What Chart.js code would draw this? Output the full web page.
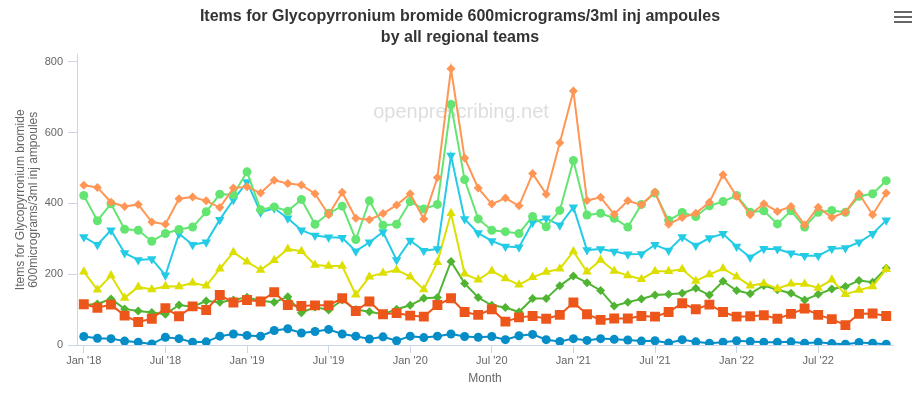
<!DOCTYPE html>
<html>
<head>
<meta charset="utf-8">
<script src="https://cdn.jsdelivr.net/npm/chart.js@4/dist/chart.umd.min.js"></script>
<style>
  html, body { margin: 0; padding: 0; background: #fff; }
  #wrap { width: 920px; height: 396px; position: relative; }
</style>
</head>
<body>
<div id="wrap"><canvas id="chart" width="920" height="396"></canvas></div>
<script>
// months Jan 2018 .. Dec 2022
const monthNames = ['Jan', 'Feb', 'Mar', 'Apr', 'May', 'Jun', 'Jul', 'Aug', 'Sep', 'Oct', 'Nov', 'Dec']
const years = ['18', '19', '20', '21', '22']
const months = years.flatMap(y => monthNames.map(m => `${m} '${y}`))

const yTicks = [0, 200, 400, 600, 800]

// one list per regional team (series colours follow the original chart)
const teamA = [24, 19, 18, 11, 8, 3, 22, 18, 8, 9, 25, 31, 27, 25, 41, 46, 34, 38, 44, 31,
  25, 17, 23, 12, 25, 21, 25, 31, 24, 22, 24, 15, 26, 30, 15, 10, 18, 13, 18, 16,
  14, 11, 12, 6, 15, 9, 5, 8, 12, 10, 8, 8, 9, 5, 8, 4, 2, 7, 5, 2]
const teamB = [113, 116, 130, 102, 96, 92, 87, 113, 108, 124, 121, 127, 135, 125, 121, 136, 91, 107, 99, 127,
  100, 94, 87, 101, 112, 132, 134, 236, 174, 134, 112, 106, 93, 131, 131, 167, 195, 176, 154, 110,
  121, 130, 141, 143, 146, 160, 141, 180, 154, 145, 168, 156, 146, 127, 143, 158, 165, 182, 177, 217]
const teamC = [115, 105, 114, 83, 65, 74, 104, 81, 109, 99, 141, 120, 127, 123, 149, 113, 110, 112, 112, 132,
  96, 123, 87, 90, 83, 80, 113, 132, 93, 85, 101, 66, 78, 82, 74, 85, 120, 87, 71, 75,
  75, 82, 80, 93, 118, 101, 114, 93, 80, 81, 84, 74, 88, 103, 85, 73, 56, 88, 89, 82]
const teamD = [207, 156, 196, 133, 164, 157, 166, 165, 176, 167, 215, 262, 235, 212, 239, 271, 265, 226, 223, 223,
  142, 193, 203, 212, 193, 157, 234, 372, 201, 184, 209, 188, 170, 191, 206, 215, 264, 207, 240, 209,
  196, 186, 208, 208, 214, 181, 199, 216, 193, 167, 174, 159, 173, 172, 161, 184, 143, 155, 165, 214]
const teamE = [305, 283, 324, 260, 240, 243, 197, 314, 283, 290, 354, 410, 460, 375, 386, 358, 324, 309, 304, 303,
  265, 290, 319, 240, 295, 266, 271, 535, 356, 316, 294, 278, 276, 346, 358, 338, 389, 268, 271, 264,
  256, 257, 283, 267, 305, 281, 302, 314, 278, 248, 272, 271, 259, 252, 252, 272, 274, 290, 314, 352]
const teamF = [422, 351, 399, 327, 324, 293, 315, 326, 333, 376, 426, 424, 489, 382, 390, 378, 411, 341, 372, 392,
  298, 407, 338, 341, 405, 384, 397, 679, 467, 356, 324, 320, 315, 363, 334, 380, 521, 367, 372, 358,
  333, 397, 429, 352, 374, 363, 393, 405, 422, 375, 379, 342, 379, 333, 375, 380, 375, 420, 427, 464]
const teamG = [451, 445, 403, 391, 397, 347, 341, 413, 418, 407, 388, 443, 447, 429, 465, 456, 452, 427, 368, 431,
  358, 354, 371, 395, 427, 356, 473, 780, 528, 443, 398, 415, 393, 484, 426, 571, 717, 408, 417, 369,
  407, 396, 432, 341, 360, 372, 403, 481, 420, 368, 399, 377, 391, 339, 389, 360, 375, 427, 368, 429]

const series = [
  { data: teamA, color: '#058DC7', style: 'circle', r: 4.5 },
  { data: teamB, color: '#50B432', style: 'rectRot', r: 4.5 },
  { data: teamC, color: '#ED561B', style: 'rect', r: 7 },
  { data: teamD, color: '#DDDF00', style: 'triangle', r: 5.5 },
  { data: teamE, color: '#24CBE5', style: 'triangle', r: 5.5, rot: 180 },
  { data: teamF, color: '#64E572', style: 'circle', r: 4.5 },
  { data: teamG, color: '#FF9655', style: 'rectRot', r: 4.5 }
]

const datasets = series.map((s, i) => ({
  data: s.data,
  borderColor: s.color,
  backgroundColor: s.color,
  borderWidth: 2,
  pointStyle: s.style,
  pointRadius: s.r,
  pointRotation: s.rot || 0,
  pointBorderWidth: 0,
  tension: 0,
  order: series.length - i
}))

const font = 'Liberation Sans, Arial, Helvetica, sans-serif'

const extras = {
  id: 'extras',
  beforeDatasetsDraw(chart) {
    const ctx = chart.ctx
    ctx.save()
    ctx.font = `20px ${font}`
    ctx.fillStyle = '#dedede'
    ctx.textAlign = 'center'
    ctx.textBaseline = 'middle'
    ctx.fillText('openprescribing.net', 461, 112)
    ctx.restore()
  },
  afterDraw(chart) {
    const ctx = chart.ctx
    ctx.save()
    ctx.strokeStyle = '#666'
    ctx.lineWidth = 2
    ctx.beginPath()
    for (const y of [12, 17, 22]) {
      ctx.moveTo(894, y)
      ctx.lineTo(912, y)
    }
    ctx.stroke()
    ctx.restore()
  }
}

new Chart(document.getElementById('chart'), {
  type: 'line',
  data: { labels: months, datasets },
  plugins: [extras],
  options: {
    responsive: false,
    animation: false,
    layout: { padding: 0 },
    plugins: {
      legend: { display: false },
      tooltip: { enabled: false },
      title: {
        display: true,
        text: ['Items for Glycopyrronium bromide 600micrograms/3ml inj ampoules', 'by all regional teams'],
        color: '#333',
        font: { family: font, size: 16, weight: 'bold', lineHeight: 1.3 },
        padding: { top: 6, bottom: 7 }
      }
    },
    scales: {
      x: {
        offset: true,
        grid: {
          offset: false,
          drawOnChartArea: false,
          tickLength: 8,
          tickColor: ctx => (ctx.index % 6 === 0 ? '#ccd6eb' : 'rgba(0,0,0,0)')
        },
        border: { color: '#ccd6eb' },
        ticks: {
          autoSkip: false,
          maxRotation: 0,
          padding: 1,
          color: '#666',
          font: { family: font, size: 11 },
          callback: (v, i) => (i % 6 === 0 ? months[i] : '')
        },
        title: {
          display: true,
          text: 'Month',
          color: '#666',
          font: { family: font, size: 12 },
          padding: { top: 0, bottom: 10 }
        },
        afterFit: scale => { scale.height = 51 }
      },
      y: {
        min: 0,
        max: 820,
        grid: { drawOnChartArea: false, tickLength: 9, tickColor: '#ccd6eb' },
        border: { color: '#ccd6eb' },
        afterBuildTicks: scale => { scale.ticks = yTicks.map(v => ({ value: v })) },
        ticks: {
          padding: 5,
          color: '#666',
          font: { family: font, size: 11 }
        },
        title: {
          display: true,
          text: ['Items for Glycopyrronium bromide', '600micrograms/3ml inj ampoules'],
          color: '#666',
          font: { family: font, size: 12, lineHeight: 1.1 },
          padding: { top: 14, bottom: 0 }
        },
        afterFit: scale => { scale.width = 77 }
      },
      // empty right-hand spacer so the plot ends where the original does
      spacer: {
        position: 'right',
        display: true,
        grid: { display: false },
        border: { display: false },
        ticks: { display: false },
        afterFit: scale => { scale.width = 27 }
      }
    }
  }
})
</script>
</body>
</html>
